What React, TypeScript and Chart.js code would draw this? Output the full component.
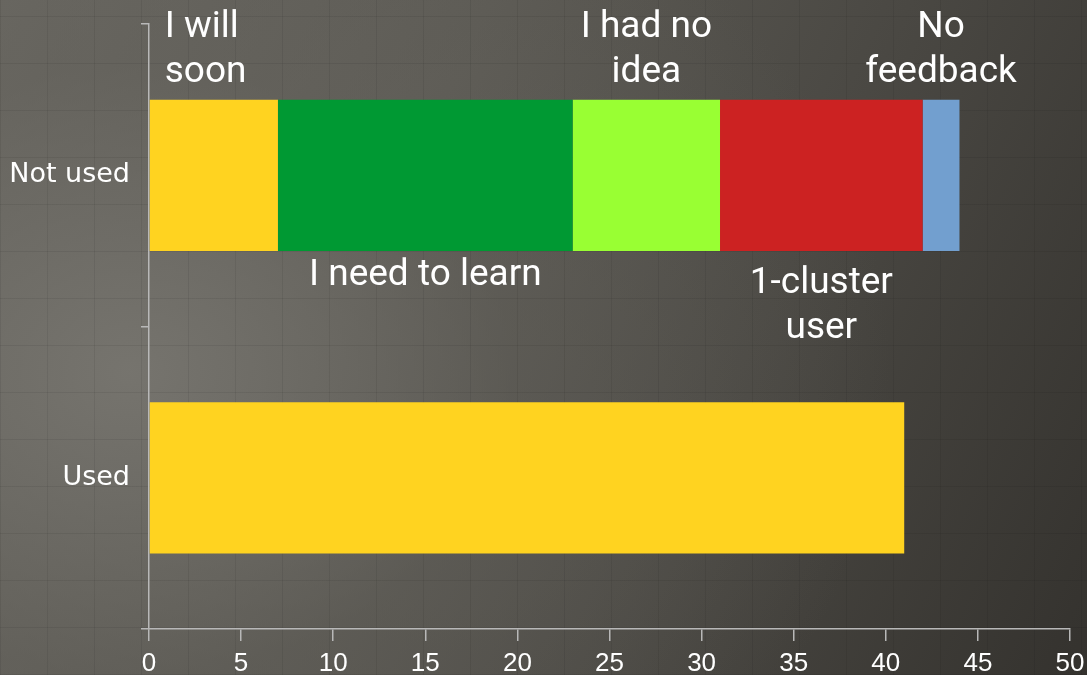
import React, { useEffect, useRef } from "react";
import { Chart, registerables } from "chart.js";

Chart.register(...registerables);

const categories = ["Not used", "Used"];
const yellowSeries = [7, 41];
const needToLearn = [16, 0];
const noIdea = [8, 0];
const oneCluster = [11, 0];
const noFeedback = [2, 0];
const xTicks = [0, 5, 10, 15, 20, 25, 30, 35, 40, 45, 50];

const seriesColors = ["#ffd320", "#009933", "#99ff33", "#cc2222", "#729fcf"];
const seriesNames = ["I will soon", "I need to learn", "I had no idea", "1-cluster user", "No feedback"];
const segmentLabelLines = [["I will", "soon"], ["I need to learn"], ["I had no", "idea"], ["1-cluster", "user"], ["No", "feedback"]];
const segmentLabelSide = ["above", "below", "above", "below", "above"];
const segmentLabelAlign = ["left", "center", "center", "center", "center"];

const labelPlugin = {
  id: "segmentLabels",
  afterDatasetsDraw(chart: any) {
    const ctx = chart.ctx;
    ctx.save();
    ctx.fillStyle = "#ffffff";
    ctx.font = "37px Roboto";
    ctx.textBaseline = "alphabetic";
    const lineGap = 45;
    chart.data.datasets.forEach((ds: any, i: number) => {
      const meta = chart.getDatasetMeta(i);
      const el = meta.data[0];
      if (!el) return;
      const left = Math.min(el.x, el.base);
      const right = Math.max(el.x, el.base);
      const top = el.y - el.height / 2;
      const bottom = el.y + el.height / 2;
      const lines = segmentLabelLines[i];
      const align = segmentLabelAlign[i];
      let x = (left + right) / 2;
      if (align === "left") {
        x = left + 15;
        ctx.textAlign = "left";
      } else {
        ctx.textAlign = "center";
      }
      if (segmentLabelSide[i] === "above") {
        const lastBase = top - 18;
        lines.forEach((ln: string, k: number) => {
          ctx.fillText(ln, x, lastBase - (lines.length - 1 - k) * lineGap);
        });
      } else {
        const firstBase = bottom + (lines.length > 1 ? 42 : 34);
        lines.forEach((ln: string, k: number) => {
          ctx.fillText(ln, x, firstBase + k * lineGap);
        });
      }
    });
    ctx.restore();
  },
};

export default function App() {
  const ref = useRef<HTMLCanvasElement>(null);
  useEffect(() => {
    const seriesData = [yellowSeries, needToLearn, noIdea, oneCluster, noFeedback];
    const chart = new Chart(ref.current as HTMLCanvasElement, {
      type: "bar",
      data: {
        labels: categories,
        datasets: seriesData.map((d, i) => ({
          label: seriesNames[i],
          data: d,
          backgroundColor: seriesColors[i],
          borderWidth: 0,
          barPercentage: 0.5,
          categoryPercentage: 1,
        })),
      },
      options: {
        indexAxis: "y",
        responsive: false,
        animation: false,
        layout: { padding: { top: 24, right: 17, left: 10, bottom: 0 } },
        plugins: { legend: { display: false }, tooltip: { enabled: false } },
        scales: {
          x: {
            stacked: true,
            min: 0,
            max: 50,
            afterBuildTicks: (axis: any) => {
              axis.ticks = xTicks.map((v) => ({ value: v }));
            },
            afterFit: (axis: any) => {
              axis.height = 46;
              axis.paddingLeft = 0;
              axis.paddingRight = 0;
            },
            grid: { drawOnChartArea: false, color: "#b8b8b8", tickLength: 12, lineWidth: 1.5 },
            border: { color: "#b8b8b8", width: 1.5 },
            ticks: { color: "#ffffff", font: { family: "'Liberation Sans', Arial, sans-serif", size: 26 }, padding: 7, maxRotation: 0 },
          },
          y: {
            stacked: true,
            afterFit: (axis: any) => {
              axis.width = 139;
              axis.paddingTop = 0;
              axis.paddingBottom = 0;
            },
            grid: { drawOnChartArea: false, color: "#b8b8b8", tickLength: 8, offset: true, lineWidth: 1.5 },
            border: { color: "#b8b8b8", width: 1.5 },
            ticks: { color: "#ffffff", font: { family: "'DejaVu Sans', sans-serif", size: 27 }, padding: 11 },
          },
        },
      },
      plugins: [labelPlugin],
    } as any);
    return () => chart.destroy();
  }, []);

  const bg = [
    "repeating-linear-gradient(90deg, rgba(0,0,0,0.07) 0px, rgba(0,0,0,0.07) 1px, transparent 1px, transparent 47px)",
    "repeating-linear-gradient(0deg, rgba(0,0,0,0.07) 0px, rgba(0,0,0,0.07) 1px, transparent 1px, transparent 47px)",
    "radial-gradient(ellipse 70% 90% at 12% 55%, rgba(120,118,112,0.9) 0%, rgba(100,98,92,0.5) 50%, rgba(60,58,53,0) 100%)",
    "linear-gradient(115deg, #6a6862 0%, #5c5a54 35%, #4a4843 65%, #34322e 100%)",
  ].join(",");

  return (
    <div style={{ position: "fixed", left: 0, top: 0, width: 1087, height: 675, background: bg, overflow: "hidden" }}>
      <canvas ref={ref} width={1087} height={675} style={{ display: "block" }} />
    </div>
  );
}
